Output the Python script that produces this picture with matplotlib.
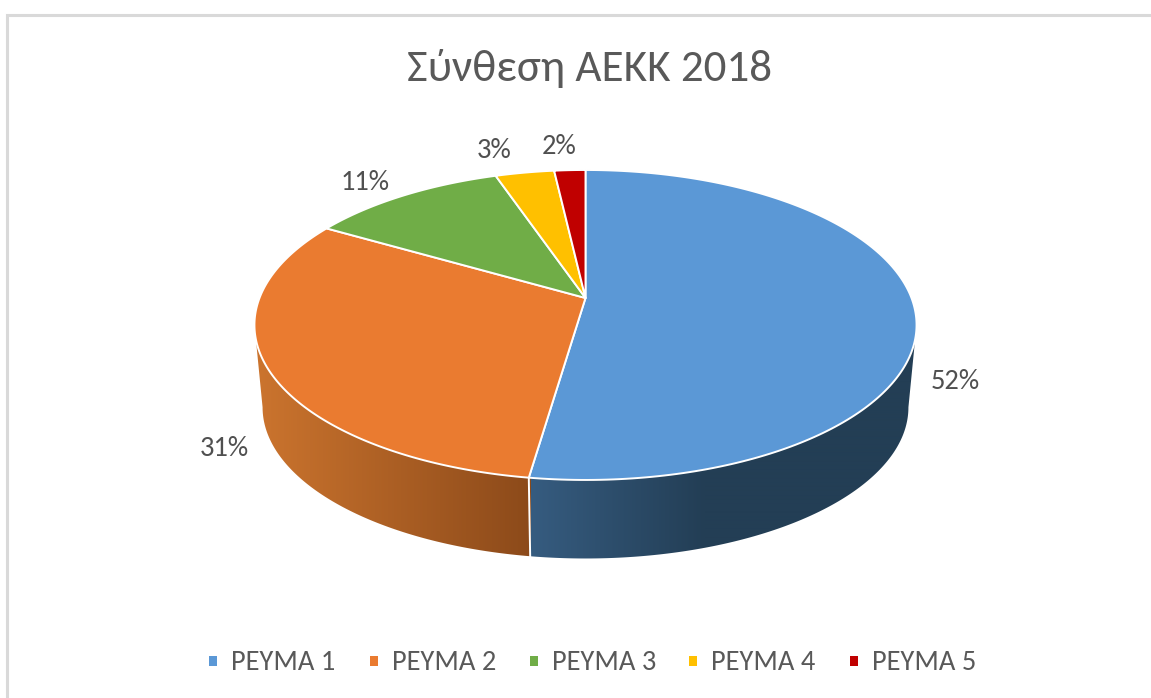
import numpy as np
import matplotlib
matplotlib.use("Agg")
import matplotlib.pyplot as plt
from matplotlib.colors import to_rgb
from matplotlib.patches import Polygon, Rectangle

plt.rcParams['font.family'] = ['Carlito', 'Lato', 'Open Sans', 'DejaVu Sans']

# data
title = "Σύνθεση ΑΕΚΚ 2018"
categories = ["ΡΕΥΜΑ 1", "ΡΕΥΜΑ 2", "ΡΕΥΜΑ 3", "ΡΕΥΜΑ 4", "ΡΕΥΜΑ 5"]
shares = [52.3, 31.1, 11.4, 3.4, 1.8]
colors = ["#5b98d6", "#ea7b30", "#70ad47", "#ffc000", "#c00000"]

# pixel positions of the labels
label_x = [955, 224, 365, 494, 559]
label_y = [381.5, 448.5, 182.5, 150, 147]
legend_x = [213, 374, 534, 693, 854]

# perspective of the disc
k = 0.174
cx = 585.5
top_a, top_c, top_y0 = 326, 150.3, 298
low_a, low_c, low_y0 = 318, 146.6, 381


def rim(t_deg, a, c, y0):
    t = np.radians(t_deg)
    x, y = np.sin(t), np.cos(t)
    w = 1 + k * y
    return cx + a * x / w, y0 - c * y / w


def shade(x, x0, x1, c0, c1):
    f = np.clip((x - x0) / (x1 - x0), 0, 1)[:, None]
    return np.array(to_rgb(c0)) * (1 - f) + np.array(to_rgb(c1)) * f


fig = plt.figure(figsize=(11.51, 6.98), dpi=100)
ax = fig.add_axes([0, 0, 1, 1])
ax.axis("off")

# chart frame, only left and top show
ax.plot([7.5, 7.5, 1151], [698, 15, 15], color="#d9d9d9", lw=2.2, solid_joinstyle="miter")

edges = np.concatenate([[0], np.cumsum(shares)]) * 3.6

# side wall, front part only: gradient image clipped to the wall outline
ts = np.linspace(100, 260, 400)
ux, uy = rim(ts, top_a, top_c, top_y0)
lx, ly = rim(ts[::-1], low_a, low_c, low_y0)
wall = Polygon(list(zip(ux, uy)) + list(zip(lx, ly)), closed=True, transform=ax.transData,
               facecolor="none", edgecolor="none")
ax.add_patch(wall)

split_x = rim(edges[1], low_a, low_c, low_y0)[0]
xs = np.arange(250, 921)
grad = np.where((xs < split_x)[:, None],
                shade(xs, 258, 530, "#cb742e", "#8c4a1a"),
                shade(xs, 530, 705, "#365c80", "#233e55"))
img = ax.imshow(grad[None, :, :], extent=(250, 921, 570, 300), aspect="auto",
                interpolation="bilinear", zorder=2)
img.set_clip_path(wall)

# white line between the two visible wall parts
sx0, sy0 = rim(edges[1], top_a, top_c, top_y0)
sx1, sy1 = rim(edges[1], low_a, low_c, low_y0)
ax.plot([sx0, sx1], [sy0, sy1], color="white", lw=1.4, zorder=3)

# top faces
for i in range(len(shares)):
    ts = np.linspace(edges[i], edges[i + 1], 200)
    px, py = rim(ts, top_a, top_c, top_y0)
    pts = [(cx, top_y0)] + list(zip(px, py))
    ax.add_patch(Polygon(pts, closed=True, facecolor=colors[i], edgecolor="white",
                         lw=1.4, joinstyle="round", zorder=4))

ax.text(590, 68, title, ha="center", va="center", fontsize=32.5, color="#595959")

for i in range(len(shares)):
    ax.text(label_x[i], label_y[i], f"{round(shares[i])}%", ha="center", va="center",
            fontsize=20.5, color="#505050")
    ax.add_patch(Rectangle((legend_x[i] - 4, 656), 8, 10, facecolor=colors[i], edgecolor="none"))
    ax.text(legend_x[i] + 18, 662.5, categories[i], ha="left", va="center",
            fontsize=20.5, color="#595959")

ax.set_xlim(0, 1151)
ax.set_ylim(698, 0)

fig.savefig("out.png", dpi=100, facecolor="white")
